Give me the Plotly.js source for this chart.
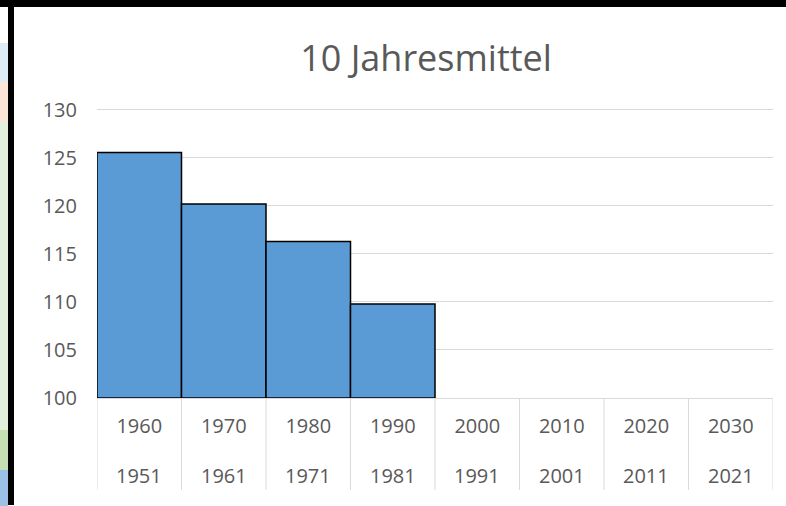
<!DOCTYPE html>
<html>
<head>
<meta charset="utf-8">
<script src="https://cdn.plot.ly/plotly-3.0.1.min.js"></script>
<style>
html,body{margin:0;padding:0;background:#fff;overflow:hidden;}
#wrap{position:relative;width:786px;height:506px;}
#chart{position:absolute;left:0;top:0;width:786px;height:506px;}
.deco{position:absolute;}
</style>
</head>
<body>
<div id="wrap">
<div id="chart"></div>
<div class="deco" style="left:0;top:0;width:786px;height:7px;background:#000;"></div>
<div class="deco" style="left:8px;top:0;width:6px;height:505px;background:#000;"></div>
<div class="deco" style="left:0;top:43px;width:8px;height:39px;background:#ddebf7;"></div>
<div class="deco" style="left:0;top:82px;width:8px;height:39px;background:#fce4d6;"></div>
<div class="deco" style="left:0;top:121px;width:8px;height:309px;background:#e2efda;"></div>
<div class="deco" style="left:0;top:430px;width:8px;height:40px;background:#c6e0b4;"></div>
<div class="deco" style="left:0;top:470px;width:8px;height:36px;background:#9bc2e6;"></div>
</div>
<script>
const decadeEnd = ['1960','1970','1980','1990','2000','2010','2020','2030'];
const decadeStart = ['1951','1961','1971','1981','1991','2001','2011','2021'];
const means = [125.55, 120.2, 116.3, 109.8, null, null, null, null];
const yTicks = [100,105,110,115,120,125,130];

const font = "'Open Sans', sans-serif";
const tickSize = 20;
const trace = {
  type: 'bar',
  x: decadeEnd,
  y: means.map(v => v === null ? null : v - 100),
  base: 100,
  marker: {color: '#5b9bd5', line: {color: '#000', width: 1.5}},
  hoverinfo: 'skip'
};

// Lower label row (by category index) and divider lines between categories
const annotations = decadeStart.map((s, i) => ({
  x: i, xref: 'x', y: -0.268, yref: 'paper',
  text: s, showarrow: false, xanchor: 'center', yanchor: 'middle',
  font: {family: font, size: tickSize, color: '#595959'}
}));
const shapes = [];
for (let i = 0; i <= decadeEnd.length; i++) {
  shapes.push({type: 'line', xref: 'x', yref: 'paper', x0: i - 0.5, x1: i - 0.5, y0: 0, y1: -0.316,
    line: {color: '#d9d9d9', width: 1}});
}

const layout = {
  width: 786, height: 506,
  margin: {l: 97, r: 13, t: 107, b: 108},
  paper_bgcolor: '#fff', plot_bgcolor: '#fff',
  bargap: 0,
  showlegend: false,
  font: {family: font, color: '#595959', size: tickSize},
  title: {text: '10 Jahresmittel', font: {family: font, size: 36, color: '#595959'}, x: 0.542, xanchor: 'center', y: 0.885, yanchor: 'middle'},
  xaxis: {
    type: 'category', range: [-0.5, decadeEnd.length - 0.5],
    showline: true, linecolor: '#d9d9d9', linewidth: 1,
    ticks: '', tickfont: {family: font, size: tickSize, color: '#595959'},
    ticklabelstandoff: 10,
    showgrid: false, zeroline: false
  },
  yaxis: {
    range: [100, 130.3], tickvals: yTicks, ticktext: yTicks.map(String),
    showgrid: true, gridcolor: '#d9d9d9', gridwidth: 1,
    zeroline: false, showline: false, ticks: '',
    tickfont: {family: font, size: tickSize, color: '#595959'},
    ticklabelstandoff: 19
  },
  annotations: annotations,
  shapes: shapes
};
Plotly.newPlot('chart', [trace], layout, {displayModeBar: false, staticPlot: true});
</script>
</body>
</html>
